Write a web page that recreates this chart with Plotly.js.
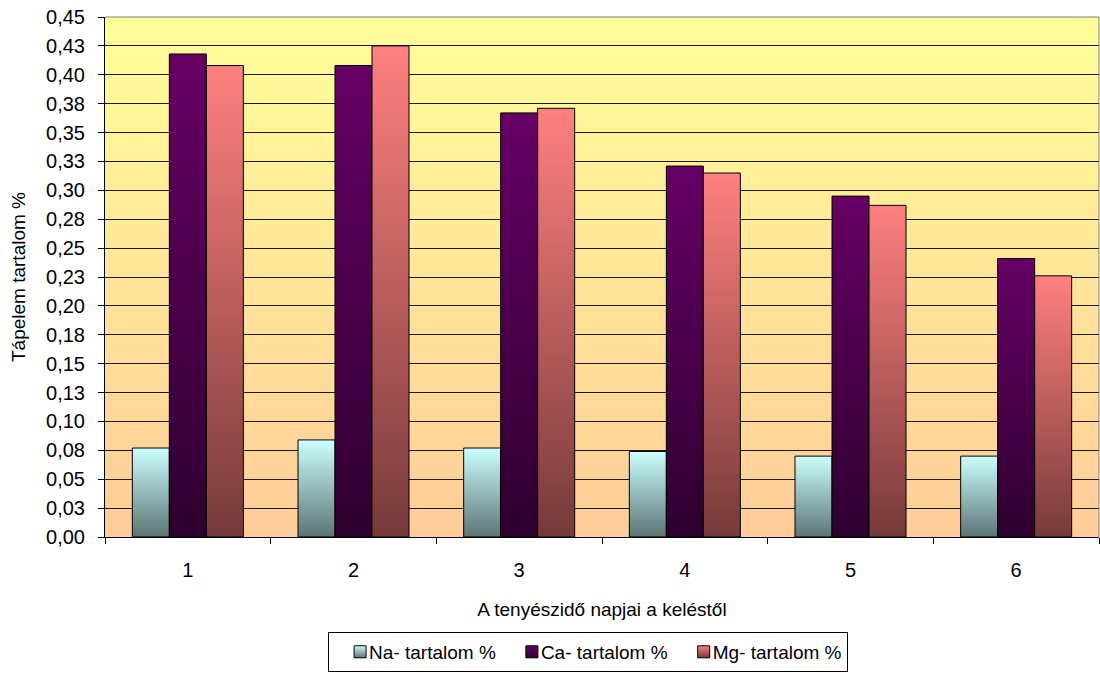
<!DOCTYPE html>
<html><head><meta charset="utf-8">
<script src="https://cdn.plot.ly/plotly-3.0.1.min.js"></script>
<style>html,body{margin:0;padding:0;background:#fff;} #chart{width:1100px;height:673px;}</style>
</head><body><div id="chart"></div>
<script>
const categories = ['1', '2', '3', '4', '5', '6'];
const naValues = [0.077, 0.084, 0.077, 0.074, 0.070, 0.070];
const caValues = [0.418, 0.408, 0.367, 0.321, 0.295, 0.241];
const mgValues = [0.408, 0.425, 0.371, 0.315, 0.287, 0.226];
const seriesNames = ['Na- tartalom %', 'Ca- tartalom %', 'Mg- tartalom %'];
const yTickVals = [0, 0.025, 0.05, 0.075, 0.1, 0.125, 0.15, 0.175, 0.2, 0.225, 0.25, 0.275, 0.3, 0.325, 0.35, 0.375, 0.4, 0.425, 0.45];
const yTickText = ['0,00', '0,03', '0,05', '0,08', '0,10', '0,13', '0,15', '0,18', '0,20', '0,23', '0,25', '0,28', '0,30', '0,33', '0,35', '0,38', '0,40', '0,43', '0,45'];
const xTitle = 'A tenyészidő napjai a keléstől';
const yTitle = 'Tápelem tartalom %';

// gradient colour stops (top, bottom)
const barGradients = [['#CCFFFF', '#5C7474'], ['#660066', '#2E002E'], ['#FF8080', '#763A3A']];
const bgGradient = ['#FFFF99', '#FFCC99'];

const FONT = 'Liberation Sans, Arial, sans-serif';
const seriesValues = [naValues, caValues, mgValues];

const traces = seriesValues.map((vals, i) => ({
  type: 'bar',
  name: seriesNames[i],
  x: categories,
  y: vals,
  marker: { color: barGradients[i][0], line: { color: '#000000', width: 1 } },
  hoverinfo: 'skip'
}));

const layout = {
  width: 1100, height: 673,
  margin: { l: 105, r: 1, t: 17, b: 136 },
  paper_bgcolor: '#ffffff',
  plot_bgcolor: bgGradient[1],
  font: { family: FONT, size: 19, color: '#000000' },
  barmode: 'group',
  bargap: 0.33,
  bargroupgap: 0,
  showlegend: true,
  xaxis: {
    type: 'category',
    range: [-0.5, 5.5],
    showline: true, linecolor: '#000000', linewidth: 1,
    ticks: 'outside', ticklen: 6, tickcolor: '#000000', tickwidth: 1,
    tickson: 'boundaries',
    showgrid: false,
    ticklabelstandoff: 15,
    tickfont: { family: FONT, size: 20, color: '#000000' },
    title: { text: xTitle, font: { family: FONT, size: 19, color: '#000000' }, standoff: 22 }
  },
  yaxis: {
    range: [0, 0.45],
    tickvals: yTickVals, ticktext: yTickText,
    showline: true, linecolor: '#000000', linewidth: 1,
    ticks: 'outside', ticklen: 6, tickcolor: '#000000', tickwidth: 1,
    showgrid: true, gridcolor: '#1a1a1a', gridwidth: 1,
    zeroline: false,
    ticklabelstandoff: 9,
    tickfont: { family: FONT, size: 20, color: '#000000' },
    title: { text: yTitle, font: { family: FONT, size: 19, color: '#000000' }, standoff: 15 }
  },
  legend: {
    orientation: 'h',
    x: 0.486, xanchor: 'center', xref: 'paper',
    y: 0.061, yanchor: 'top', yref: 'container',
    bgcolor: '#ffffff', bordercolor: '#000000', borderwidth: 1,
    font: { family: FONT, size: 19, color: '#000000' },
    itemwidth: 30, traceorder: 'normal'
  },
  shapes: [
    { type: 'line', xref: 'paper', yref: 'paper', x0: 0, x1: 1, y0: 1, y1: 1, line: { color: '#808080', width: 1 }, layer: 'above' },
    { type: 'line', xref: 'paper', yref: 'paper', x0: 1, x1: 1, y0: 0, y1: 1, line: { color: '#808080', width: 1 }, layer: 'above' }
  ],
  hovermode: false
};

function applyGradients(gd) {
  const NS = 'http://www.w3.org/2000/svg';
  const svg = gd.querySelector('svg.main-svg');
  let defs = svg.querySelector('defs');
  if (!defs) { defs = document.createElementNS(NS, 'defs'); svg.insertBefore(defs, svg.firstChild); }
  function mk(id, c1, c2) {
    const lg = document.createElementNS(NS, 'linearGradient');
    lg.setAttribute('id', id);
    lg.setAttribute('x1', '0'); lg.setAttribute('y1', '0');
    lg.setAttribute('x2', '0'); lg.setAttribute('y2', '1');
    [[0, c1], [1, c2]].forEach(([o, c]) => {
      const s = document.createElementNS(NS, 'stop');
      s.setAttribute('offset', String(o));
      s.setAttribute('stop-color', c);
      lg.appendChild(s);
    });
    defs.appendChild(lg);
  }
  barGradients.forEach((g, i) => mk('barGrad' + i, g[0], g[1]));
  mk('bgGrad', bgGradient[0], bgGradient[1]);

  gd.querySelectorAll('.barlayer .trace').forEach((tr, i) => {
    tr.querySelectorAll('path').forEach(p => { p.style.fill = 'url(#barGrad' + i + ')'; });
  });
  gd.querySelectorAll('rect.bg').forEach(r => {
    if (!r.closest('.legend')) r.style.fill = 'url(#bgGrad)';
  });
  gd.querySelectorAll('.legend .traces').forEach((t, i) => {
    t.querySelectorAll('.legendpoints path').forEach(p => { p.style.fill = 'url(#barGrad' + i + ')'; });
    const lp = t.querySelector('.legendpoints');
    if (lp) lp.setAttribute('transform', 'translate(11,0)');
  });
}

Plotly.newPlot('chart', traces, layout, { staticPlot: true, displayModeBar: false }).then(applyGradients);
</script>
</body></html>
